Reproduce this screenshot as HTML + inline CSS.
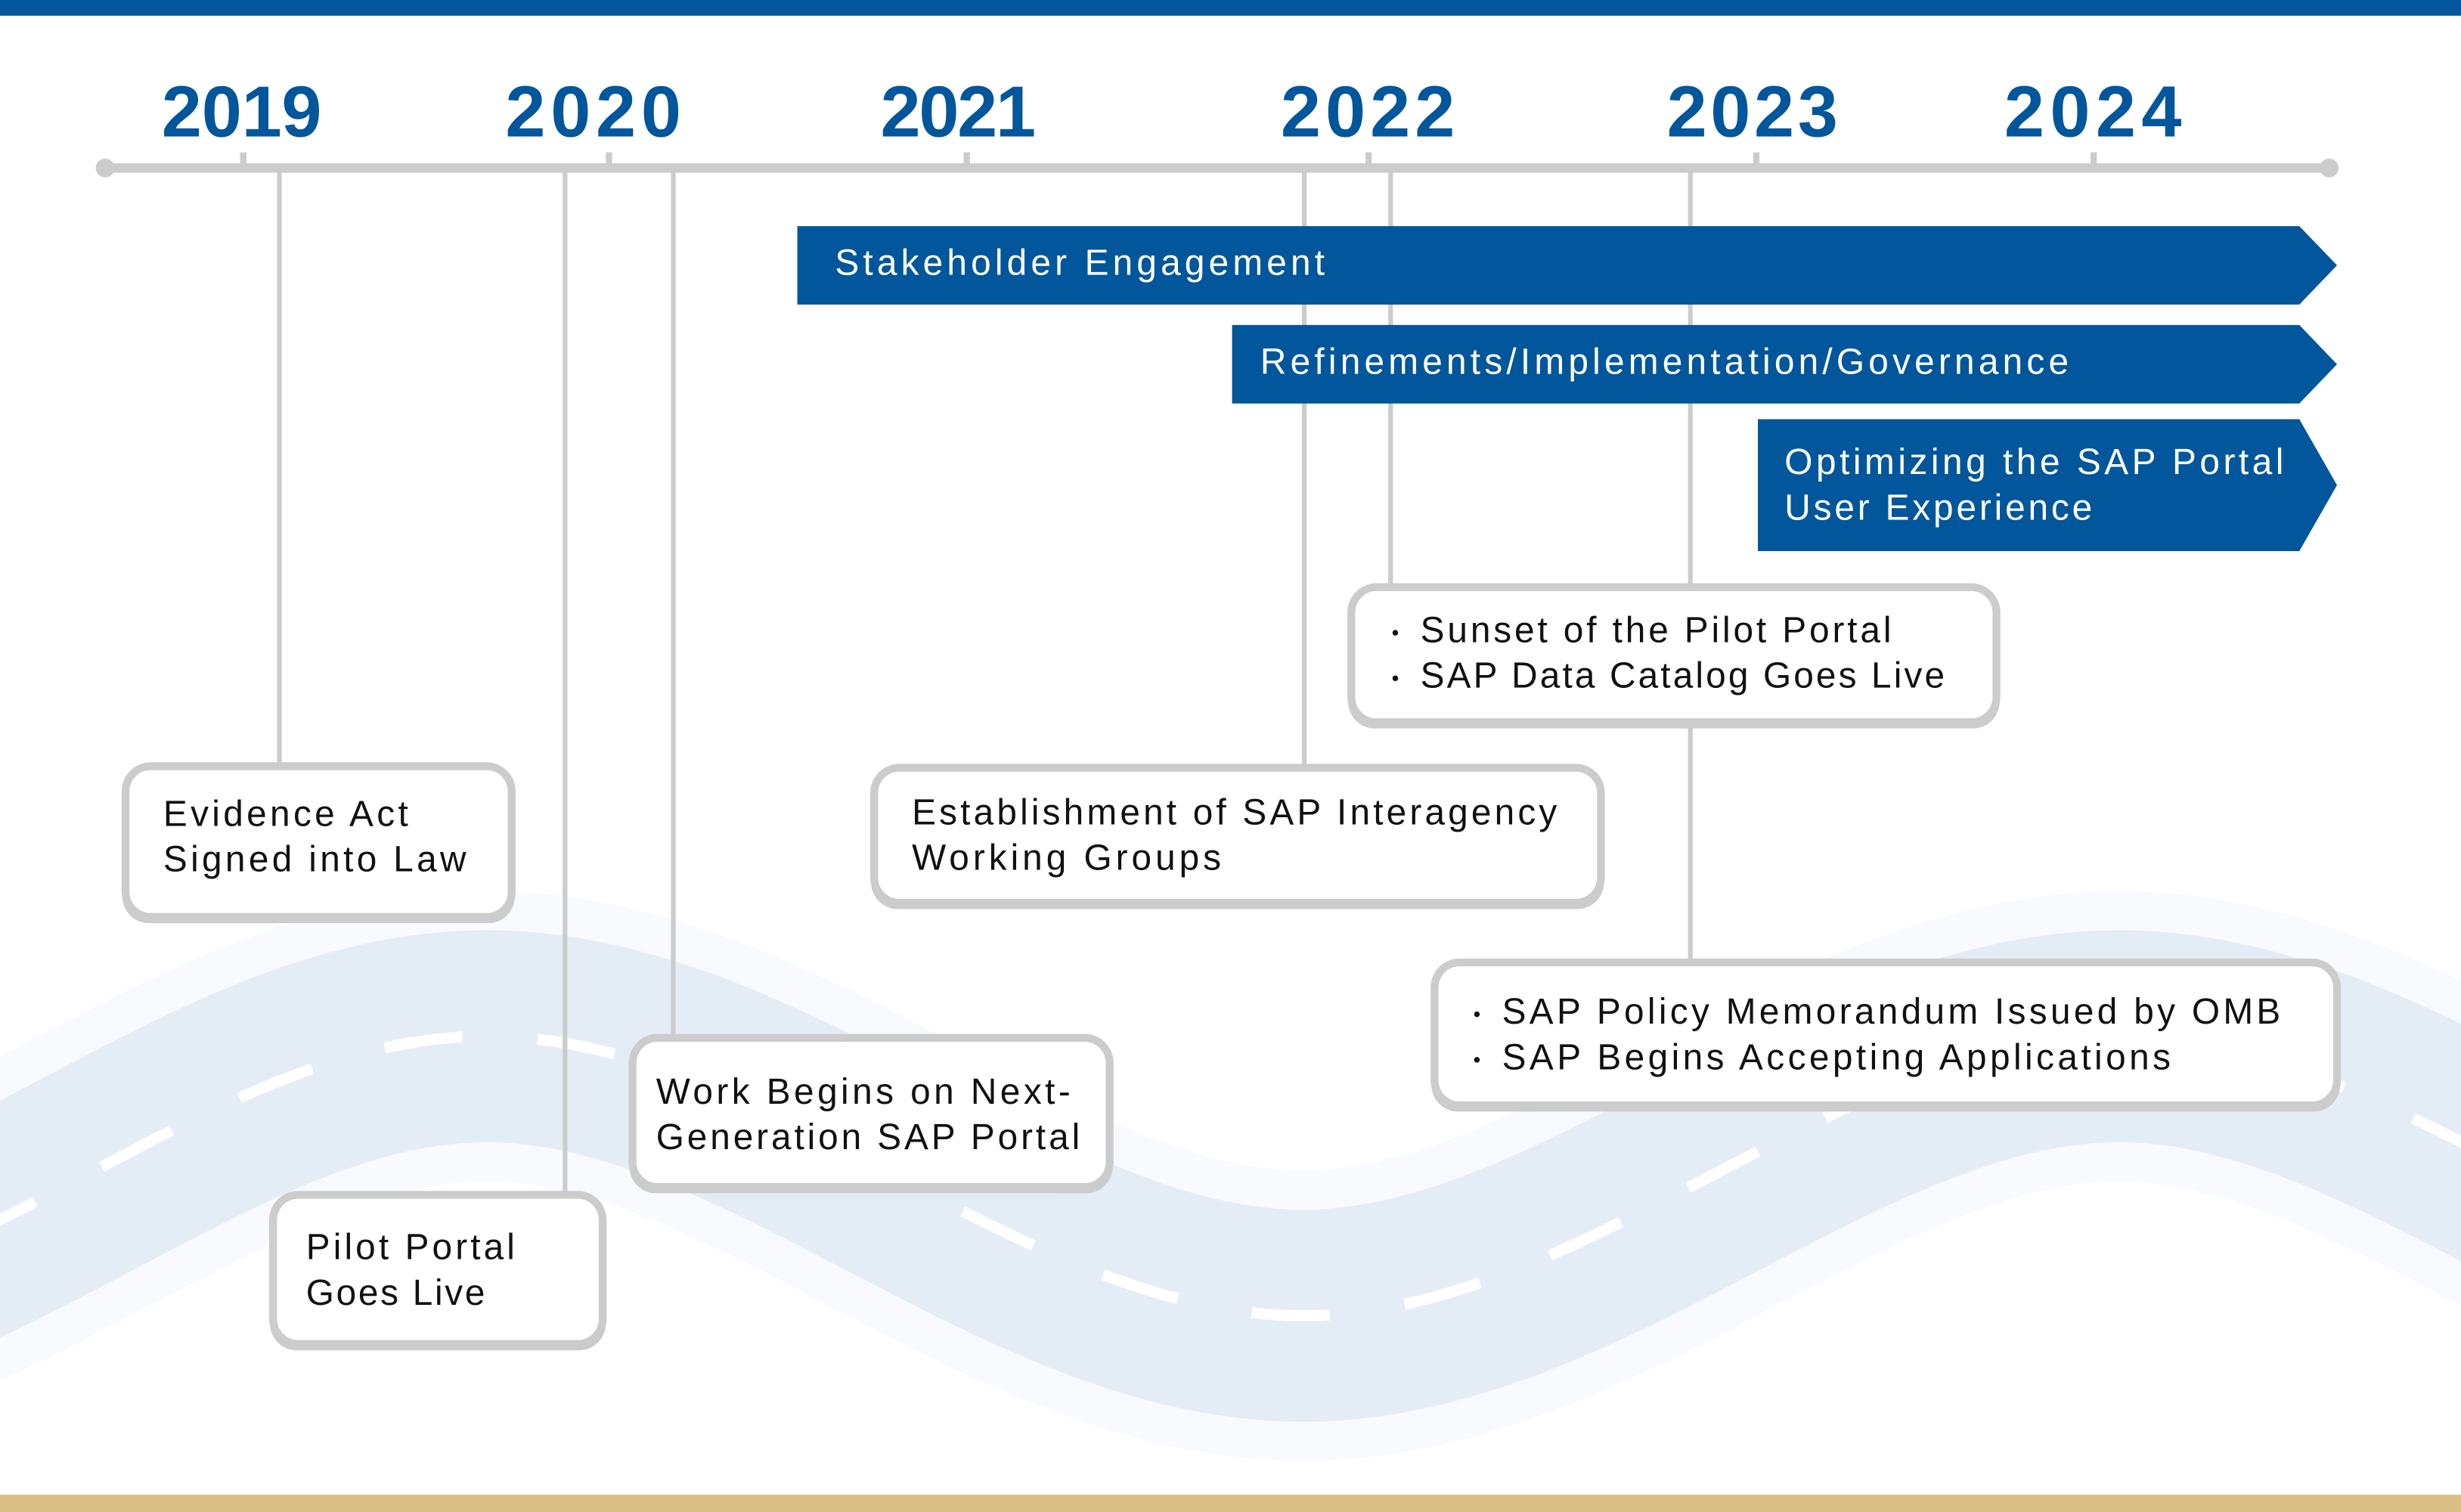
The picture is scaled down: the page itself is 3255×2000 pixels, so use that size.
<!DOCTYPE html>
<html><head><meta charset="utf-8"><style>
html,body{margin:0;padding:0;background:#fff;width:3255px;height:2000px;overflow:hidden}
svg{display:block}
.t{font-family:"Liberation Sans",sans-serif;font-size:23px;fill:#111}
.w{font-family:"Liberation Sans",sans-serif;font-size:23px;fill:#fff}
.y{font-family:"Liberation Sans",sans-serif;font-size:46px;font-weight:bold;fill:#02569b}
</style></head><body>
<svg width="3255" height="2000" viewBox="0 0 1568 963" preserveAspectRatio="none" xmlns="http://www.w3.org/2000/svg">
<rect x="0" y="0" width="1568" height="963" fill="#fff"/>
<!-- road -->
<path d="M -210,838 C -21,838 131,660 310,660 C 489,660 651,838 830,838 C 1009,838 1171,660 1350,660 C 1529,660 1691,838 1870,838" fill="none" stroke="#f8fafd" stroke-width="185"/>
<path d="M -210,838 C -21,838 131,660 310,660 C 489,660 651,838 830,838 C 1009,838 1171,660 1350,660 C 1529,660 1691,838 1870,838" fill="none" stroke="#e4edf5" stroke-width="135"/>
<path d="M -210,838 C -21,838 131,660 310,660 C 489,660 651,838 830,838 C 1009,838 1171,660 1350,660 C 1529,660 1691,838 1870,838" fill="none" stroke="#fff" stroke-width="7" stroke-dasharray="50 48"/>
<!-- bars -->
<rect x="0" y="0" width="1568" height="10" fill="#02569b"/>
<rect x="0" y="952" width="1568" height="11" fill="#d9be83"/>
<!-- timeline -->
<g stroke="#cccccc" fill="none">
<line x1="67" y1="107" x2="1484" y2="107" stroke-width="6"/>
<line x1="155" y1="97" x2="155" y2="107" stroke-width="4"/>
<line x1="388" y1="97" x2="388" y2="107" stroke-width="4"/>
<line x1="616" y1="97" x2="616" y2="107" stroke-width="4"/>
<line x1="872" y1="97" x2="872" y2="107" stroke-width="4"/>
<line x1="1119" y1="97" x2="1119" y2="107" stroke-width="4"/>
<line x1="1334" y1="97" x2="1334" y2="107" stroke-width="4"/>
<line x1="178" y1="107" x2="178" y2="490" stroke-width="3"/>
<line x1="360" y1="107" x2="360" y2="762" stroke-width="3"/>
<line x1="429" y1="107" x2="429" y2="662" stroke-width="3"/>
<line x1="831" y1="107" x2="831" y2="490" stroke-width="3"/>
<line x1="886" y1="107" x2="886" y2="376" stroke-width="3"/>
<line x1="1077" y1="107" x2="1077" y2="615" stroke-width="3"/>
</g>
<circle cx="67" cy="107" r="6" fill="#cccccc"/>
<circle cx="1484" cy="107" r="6" fill="#cccccc"/>
<text class="y" x="103" y="87" textLength="102">2019</text>
<text class="y" x="322" y="87" textLength="112">2020</text>
<text class="y" x="561" y="87" textLength="99">2021</text>
<text class="y" x="816" y="87" textLength="111">2022</text>
<text class="y" x="1062" y="87" textLength="109">2023</text>
<text class="y" x="1277" y="87" textLength="113">2024</text>
<!-- banners -->
<polygon points="508,144 1465,144 1489,169 1465,194 508,194" fill="#02569b"/>
<text class="w" x="532" y="175" textLength="312">Stakeholder Engagement</text>
<polygon points="785,207 1465,207 1489,232 1465,257 785,257" fill="#02569b"/>
<text class="w" x="803" y="238" textLength="515">Refinements/Implementation/Governance</text>
<polygon points="1120,267 1465,267 1489,309 1465,351 1120,351" fill="#02569b"/>
<text class="w" x="1137" y="302" textLength="318">Optimizing the SAP Portal</text>
<text class="w" x="1137" y="331" textLength="196">User Experience</text>
<!-- box shadows (thicker bottom) -->
<g fill="#cccccc">
<rect x="78" y="489" width="250" height="99" rx="17"/>
<rect x="172" y="762" width="214" height="98" rx="17"/>
<rect x="401" y="662" width="308" height="98" rx="17"/>
<rect x="555" y="490" width="467" height="89" rx="17"/>
<rect x="859" y="375" width="415" height="89" rx="17"/>
<rect x="912" y="614" width="579" height="94" rx="17"/>
</g>
<g fill="#fff" stroke="#cccccc" stroke-width="5">
<rect x="80" y="488" width="246" height="96" rx="16"/>
<rect x="174" y="761" width="210" height="95" rx="16"/>
<rect x="403" y="661" width="304" height="95" rx="16"/>
<rect x="557" y="489" width="463" height="86" rx="16"/>
<rect x="861" y="374" width="411" height="86" rx="16"/>
<rect x="914" y="613" width="575" height="91" rx="16"/>
</g>
<text class="t" x="104" y="526" textLength="156">Evidence Act</text>
<text class="t" x="104" y="555" textLength="193">Signed into Law</text>
<text class="t" x="195" y="802" textLength="133">Pilot Portal</text>
<text class="t" x="195" y="831" textLength="114">Goes Live</text>
<text class="t" x="418" y="703" textLength="264">Work Begins on Next-</text>
<text class="t" x="418" y="732" textLength="270">Generation SAP Portal</text>
<text class="t" x="581" y="525" textLength="411">Establishment of SAP Interagency</text>
<text class="t" x="581" y="554" textLength="197">Working Groups</text>
<circle cx="889" cy="403" r="1.8" fill="#111"/>
<circle cx="889" cy="432" r="1.8" fill="#111"/>
<text class="t" x="905" y="409" textLength="300">Sunset of the Pilot Portal</text>
<text class="t" x="905" y="438" textLength="334">SAP Data Catalog Goes Live</text>
<circle cx="941" cy="646" r="1.8" fill="#111"/>
<circle cx="941" cy="675" r="1.8" fill="#111"/>
<text class="t" x="957" y="652" textLength="496">SAP Policy Memorandum Issued by OMB</text>
<text class="t" x="957" y="681" textLength="426">SAP Begins Accepting Applications</text>
</svg>
</body></html>
